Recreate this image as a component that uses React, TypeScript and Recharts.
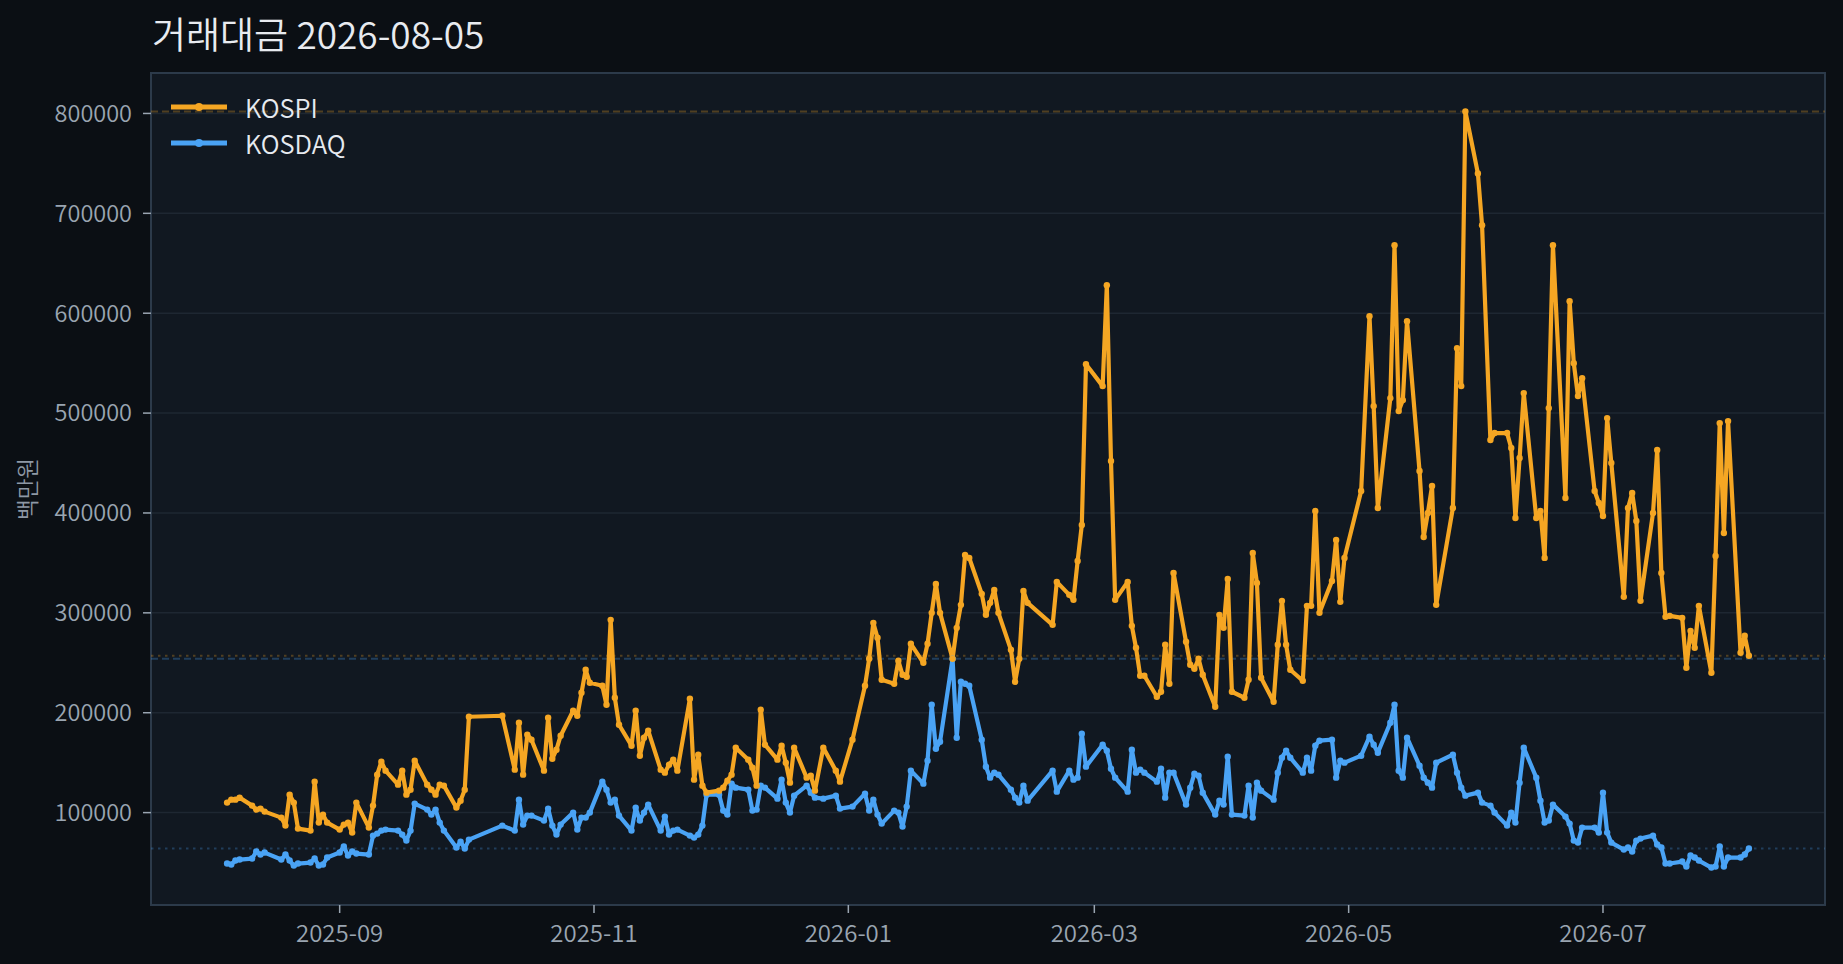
import { LineChart, Line, XAxis, YAxis, CartesianGrid, ReferenceLine, ReferenceArea } from "recharts"

// ─── Data (백만원) ───────────────────────────────────────────────────────────

const dates = [
  "2025-08-05", "2025-08-06", "2025-08-07", "2025-08-08", "2025-08-11", "2025-08-12", "2025-08-13", "2025-08-14",
  "2025-08-18", "2025-08-19", "2025-08-20", "2025-08-21", "2025-08-22", "2025-08-25", "2025-08-26", "2025-08-27",
  "2025-08-28", "2025-08-29",
  "2025-09-01", "2025-09-02", "2025-09-03", "2025-09-04", "2025-09-05", "2025-09-08", "2025-09-09", "2025-09-10",
  "2025-09-11", "2025-09-12", "2025-09-15", "2025-09-16", "2025-09-17", "2025-09-18", "2025-09-19", "2025-09-22",
  "2025-09-23", "2025-09-24", "2025-09-25", "2025-09-26", "2025-09-29", "2025-09-30",
  "2025-10-01", "2025-10-02", "2025-10-10", "2025-10-13", "2025-10-14", "2025-10-15", "2025-10-16", "2025-10-17",
  "2025-10-20", "2025-10-21", "2025-10-22", "2025-10-23", "2025-10-24", "2025-10-27", "2025-10-28", "2025-10-29",
  "2025-10-30", "2025-10-31",
  "2025-11-03", "2025-11-04", "2025-11-05", "2025-11-06", "2025-11-07", "2025-11-10", "2025-11-11", "2025-11-12",
  "2025-11-13", "2025-11-14", "2025-11-17", "2025-11-18", "2025-11-19", "2025-11-20", "2025-11-21", "2025-11-24",
  "2025-11-25", "2025-11-26", "2025-11-27", "2025-11-28",
  "2025-12-01", "2025-12-02", "2025-12-03", "2025-12-04", "2025-12-05", "2025-12-08", "2025-12-09", "2025-12-10",
  "2025-12-11", "2025-12-12", "2025-12-15", "2025-12-16", "2025-12-17", "2025-12-18", "2025-12-19", "2025-12-22",
  "2025-12-23", "2025-12-24", "2025-12-26", "2025-12-29", "2025-12-30",
  "2026-01-02", "2026-01-05", "2026-01-06", "2026-01-07", "2026-01-08", "2026-01-09", "2026-01-12", "2026-01-13",
  "2026-01-14", "2026-01-15", "2026-01-16", "2026-01-19", "2026-01-20", "2026-01-21", "2026-01-22", "2026-01-23",
  "2026-01-26", "2026-01-27", "2026-01-28", "2026-01-29", "2026-01-30",
  "2026-02-02", "2026-02-03", "2026-02-04", "2026-02-05", "2026-02-06", "2026-02-09", "2026-02-10", "2026-02-11",
  "2026-02-12", "2026-02-13", "2026-02-19", "2026-02-20", "2026-02-23", "2026-02-24", "2026-02-25", "2026-02-26",
  "2026-02-27",
  "2026-03-03", "2026-03-04", "2026-03-05", "2026-03-06", "2026-03-09", "2026-03-10", "2026-03-11", "2026-03-12",
  "2026-03-13", "2026-03-16", "2026-03-17", "2026-03-18", "2026-03-19", "2026-03-20", "2026-03-23", "2026-03-24",
  "2026-03-25", "2026-03-26", "2026-03-27", "2026-03-30", "2026-03-31",
  "2026-04-01", "2026-04-02", "2026-04-03", "2026-04-06", "2026-04-07", "2026-04-08", "2026-04-09", "2026-04-10",
  "2026-04-13", "2026-04-14", "2026-04-15", "2026-04-16", "2026-04-17", "2026-04-20", "2026-04-21", "2026-04-22",
  "2026-04-23", "2026-04-24", "2026-04-27", "2026-04-28", "2026-04-29", "2026-04-30",
  "2026-05-04", "2026-05-06", "2026-05-07", "2026-05-08", "2026-05-11", "2026-05-12", "2026-05-13", "2026-05-14",
  "2026-05-15", "2026-05-18", "2026-05-19", "2026-05-20", "2026-05-21", "2026-05-22", "2026-05-26", "2026-05-27",
  "2026-05-28", "2026-05-29",
  "2026-06-01", "2026-06-02", "2026-06-04", "2026-06-05", "2026-06-08", "2026-06-09", "2026-06-10", "2026-06-11",
  "2026-06-12", "2026-06-15", "2026-06-16", "2026-06-17", "2026-06-18", "2026-06-19", "2026-06-22", "2026-06-23",
  "2026-06-24", "2026-06-25", "2026-06-26", "2026-06-29", "2026-06-30",
  "2026-07-01", "2026-07-02", "2026-07-03", "2026-07-06", "2026-07-07", "2026-07-08", "2026-07-09", "2026-07-10",
  "2026-07-13", "2026-07-14", "2026-07-15", "2026-07-16", "2026-07-17", "2026-07-20", "2026-07-21", "2026-07-22",
  "2026-07-23", "2026-07-24", "2026-07-27", "2026-07-28", "2026-07-29", "2026-07-30", "2026-07-31",
  "2026-08-03", "2026-08-04", "2026-08-05",
]

const kospi = [
  110000, 113000, 113000, 115000, 107000, 103000, 104000, 101000,
  95000, 87000, 118000, 110000, 84000, 82000, 131000, 90000,
  98000, 90000,
  83000, 88000, 90000, 80000, 110000, 85000, 107000, 138000,
  151000, 142000, 128000, 142000, 118000, 123000, 152000, 128000,
  123000, 118000, 128000, 127000, 105000, 112000,
  123000, 196000, 197000, 143000, 190000, 138000, 178000, 173000,
  142000, 195000, 154000, 163000, 177000, 202000, 197000, 220000,
  243000, 230000,
  227000, 208000, 293000, 215000, 188000, 167000, 202000, 157000,
  175000, 182000, 143000, 140000, 148000, 153000, 142000, 214000,
  133000, 158000, 127000, 120000,
  122000, 125000, 132000, 138000, 165000, 153000, 145000, 127000,
  203000, 168000, 153000, 167000, 150000, 130000, 165000, 135000,
  137000, 122000, 165000, 142000, 131000,
  173000, 227000, 254000, 290000, 275000, 233000, 229000, 252000,
  238000, 236000, 269000, 250000, 269000, 300000, 329000, 300000,
  254000, 285000, 308000, 358000, 355000,
  319000, 298000, 310000, 323000, 300000, 263000, 231000, 254000,
  322000, 310000, 288000, 331000, 318000, 313000, 352000, 388000,
  549000,
  527000, 628000, 452000, 313000, 331000, 287000, 265000, 237000,
  237000, 216000, 221000, 268000, 229000, 340000, 271000, 248000,
  244000, 254000, 238000, 206000, 298000,
  285000, 334000, 221000, 215000, 233000, 360000, 330000, 235000,
  211000, 268000, 312000, 268000, 243000, 232000, 307000, 307000,
  402000, 300000, 332000, 373000, 311000, 355000,
  422000, 597000, 507000, 405000, 515000, 668000, 502000, 513000,
  592000, 442000, 376000, 400000, 427000, 308000, 405000, 565000,
  527000, 802000,
  740000, 688000, 473000, 480000, 480000, 465000, 395000, 455000,
  520000, 395000, 402000, 355000, 505000, 668000, 415000, 612000,
  550000, 517000, 535000, 422000, 410000,
  397000, 495000, 450000, 316000, 405000, 420000, 392000, 312000,
  400000, 463000, 340000, 296000, 297000, 295000, 245000, 282000,
  265000, 307000, 240000, 357000, 490000, 380000, 492000,
  260000, 277000, 257000,
]

const kosdaq = [
  49000, 48000, 52000, 53000, 54000, 61000, 58000, 60000,
  53000, 58000, 52000, 47000, 49000, 50000, 54000, 47000,
  48000, 55000,
  60000, 66000, 57000, 61000, 59000, 58000, 77000, 79000,
  82000, 83000, 82000, 78000, 72000, 82000, 109000, 103000,
  98000, 103000, 90000, 82000, 65000, 71000,
  64000, 73000, 87000, 82000, 113000, 88000, 97000, 97000,
  92000, 104000, 87000, 78000, 88000, 100000, 83000, 95000,
  95000, 100000,
  131000, 123000, 110000, 113000, 97000, 82000, 105000, 92000,
  100000, 108000, 82000, 96000, 78000, 82000, 83000, 77000,
  75000, 78000, 87000, 118000,
  118000, 102000, 98000, 129000, 125000, 123000, 102000, 103000,
  127000, 125000, 114000, 133000, 110000, 100000, 117000, 127000,
  120000, 115000, 114000, 117000, 104000,
  106000, 119000, 102000, 113000, 98000, 89000, 102000, 100000,
  86000, 106000, 142000, 129000, 152000, 208000, 164000, 171000,
  254000, 175000, 231000, 229000, 227000,
  173000, 146000, 135000, 140000, 138000, 123000, 115000, 110000,
  127000, 112000, 142000, 121000, 142000, 133000, 135000, 179000,
  146000,
  168000, 162000, 144000, 135000, 121000, 163000, 140000, 143000,
  140000, 131000, 144000, 115000, 140000, 140000, 108000, 125000,
  139000, 137000, 120000, 98000, 112000,
  108000, 156000, 98000, 97000, 127000, 95000, 130000, 122000,
  113000, 140000, 155000, 162000, 155000, 140000, 155000, 142000,
  167000, 172000, 173000, 135000, 152000, 150000,
  157000, 176000, 168000, 160000, 190000, 208000, 142000, 135000,
  175000, 147000, 135000, 130000, 125000, 150000, 158000, 140000,
  125000, 117000,
  120000, 110000, 107000, 100000, 87000, 100000, 90000, 130000,
  165000, 135000, 112000, 90000, 92000, 108000, 96000, 89000,
  72000, 70000, 85000, 85000, 80000,
  120000, 80000, 70000, 63000, 65000, 61000, 72000, 74000,
  77000, 68000, 65000, 49000, 49000, 51000, 46000, 57000,
  55000, 52000, 45000, 46000, 66000, 46000, 55000,
  55000, 58000, 64000,
]

const xTickDates = ["2025-09-01", "2025-11-01", "2026-01-01", "2026-03-01", "2026-05-01", "2026-07-01"]
const yTicks = [100000, 200000, 300000, 400000, 500000, 600000, 700000, 800000]

const KOSPI_COLOR = "#F5A623"
const KOSDAQ_COLOR = "#4AA3F5"
const FONT = "'Noto Sans CJK KR DemiLight', 'Noto Sans CJK KR', 'Noto Sans', sans-serif"

const data = dates.map((d, i) => ({ t: Date.parse(d), kospi: kospi[i], kosdaq: kosdaq[i] }))
const xTicks = xTickDates.map((d) => Date.parse(d))

const tStart = data[0].t
const tEnd = data[data.length - 1].t
const pad = (tEnd - tStart) * 0.05
const xDomain = [tStart - pad, tEnd + pad]
const yDomain = [7500, 840500]

const formatMonth = (v: number) => new Date(v).toISOString().slice(0, 7)

function LegendRow({ color, label }: { color: string; label: string }) {
  return (
    <div style={{ display: "flex", alignItems: "center", height: 36 }}>
      <svg width={56} height={12} style={{ marginRight: 18 }}>
        <line x1={0} y1={6} x2={56} y2={6} stroke={color} strokeWidth={5} />
        <circle cx={28} cy={6} r={4} fill={color} />
      </svg>
      <span style={{ color: "#e6eaf0", fontSize: 25.5, lineHeight: "36px" }}>{label}</span>
    </div>
  )
}

export default function App() {
  return (
    <div style={{ position: "relative", width: 1843, height: 964, background: "#0b0f14", fontFamily: FONT }}>
      <style>{`body{margin:0;background:#0b0f14}`}</style>

      <div
        style={{
          position: "absolute",
          left: 152,
          top: 8,
          fontSize: 37,
          lineHeight: "50px",
          color: "#e8ebf0",
          fontWeight: 300,
          whiteSpace: "nowrap",
        }}
      >
        거래대금 2026-08-05
      </div>

      <div
        style={{
          position: "absolute",
          left: 26,
          top: 489,
          transform: "translate(-50%, -50%) rotate(-90deg)",
          fontSize: 22.5,
          color: "#8e98a5",
          whiteSpace: "nowrap",
        }}
      >
        백만원
      </div>

      <LineChart
        width={1843}
        height={964}
        data={data}
        margin={{ top: 73, right: 18, bottom: 0, left: 0 }}
        style={{ position: "absolute", left: 0, top: 0 }}
      >
        <CartesianGrid vertical={false} stroke="#1e2732" strokeWidth={1.5} fill="#111821" fillOpacity={1} />
        <XAxis
          dataKey="t"
          type="number"
          scale="time"
          domain={xDomain}
          ticks={xTicks}
          tickFormatter={formatMonth}
          height={59}
          tickSize={8}
          tickMargin={12}
          axisLine={false}
          tickLine={{ stroke: "#9aa5b1", strokeWidth: 1.5 }}
          tick={{ fill: "#9aa5b1", fontSize: 24, fontFamily: FONT }}
          allowDataOverflow
        />
        <YAxis
          type="number"
          domain={yDomain}
          ticks={yTicks}
          width={151}
          tickSize={8}
          tickMargin={11}
          axisLine={false}
          tickLine={{ stroke: "#9aa5b1", strokeWidth: 1.5 }}
          tick={{ fill: "#9aa5b1", fontSize: 23.5, fontFamily: FONT }}
          allowDataOverflow
        />
        <ReferenceArea
          x1={xDomain[0]}
          x2={xDomain[1]}
          y1={yDomain[0]}
          y2={yDomain[1]}
          fill="none"
          stroke="#2c3a4a"
          strokeWidth={2}
        />
        <ReferenceLine y={Math.max(...kospi)} stroke={KOSPI_COLOR} strokeOpacity={0.28} strokeWidth={2} strokeDasharray="7 4" />
        <ReferenceLine y={Math.max(...kosdaq)} stroke={KOSDAQ_COLOR} strokeOpacity={0.28} strokeWidth={2} strokeDasharray="7 4" />
        <ReferenceLine y={kospi[kospi.length - 1]} stroke={KOSPI_COLOR} strokeOpacity={0.28} strokeWidth={2} strokeDasharray="2.5 4.5" />
        <ReferenceLine y={kosdaq[kosdaq.length - 1]} stroke={KOSDAQ_COLOR} strokeOpacity={0.28} strokeWidth={2} strokeDasharray="2.5 4.5" />
        <Line
          type="linear"
          dataKey="kosdaq"
          name="KOSDAQ"
          stroke={KOSDAQ_COLOR}
          strokeWidth={4.2}
          strokeLinejoin="round"
          dot={{ r: 3.2, fill: KOSDAQ_COLOR, stroke: "none" }}
          isAnimationActive={false}
        />
        <Line
          type="linear"
          dataKey="kospi"
          name="KOSPI"
          stroke={KOSPI_COLOR}
          strokeWidth={4.2}
          strokeLinejoin="round"
          dot={{ r: 3.2, fill: KOSPI_COLOR, stroke: "none" }}
          isAnimationActive={false}
        />
      </LineChart>

      <div style={{ position: "absolute", left: 171, top: 89 }}>
        <LegendRow color={KOSPI_COLOR} label="KOSPI" />
        <LegendRow color={KOSDAQ_COLOR} label="KOSDAQ" />
      </div>
    </div>
  )
}
